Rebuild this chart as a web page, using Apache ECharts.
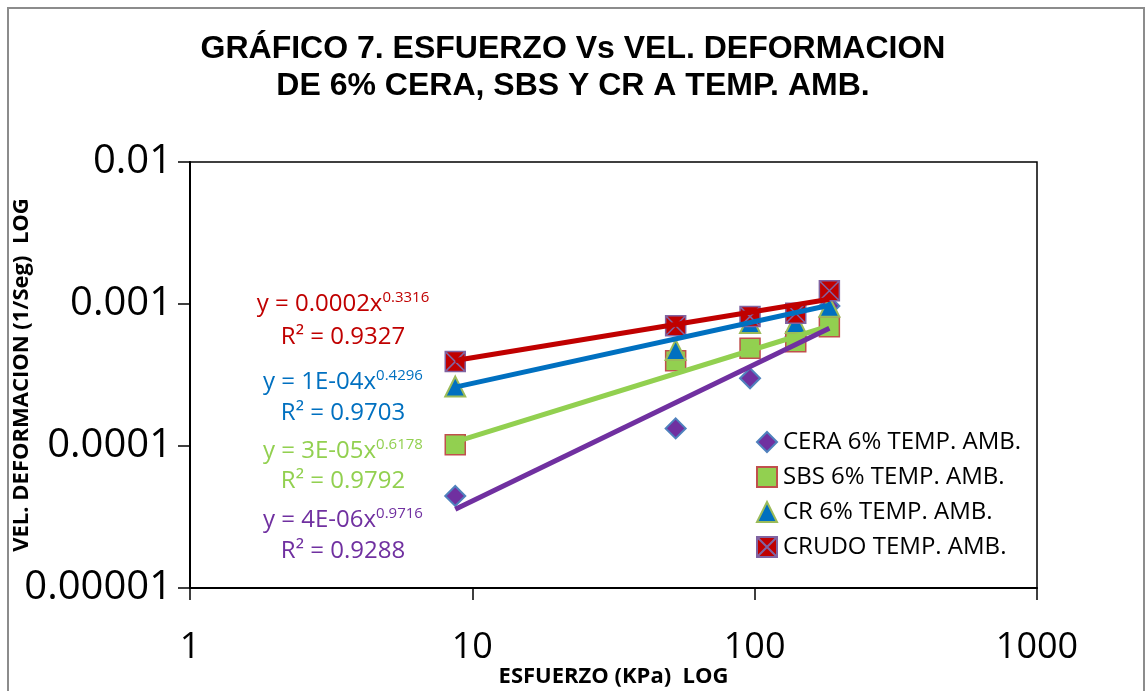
<!DOCTYPE html>
<html><head><meta charset="utf-8">
<script src="https://cdn.jsdelivr.net/npm/echarts@6/dist/echarts.min.js"></script>
<style>html,body{margin:0;padding:0;background:#fff}#c{width:1146px;height:691px}</style>
</head><body><div id="c"></div><script>
// ---- data ----
const stress = [8.7, 52.5, 96.3, 139.8, 183.9];
const ceraRate = [4.45e-5, 1.33e-4, 3.0e-4, 5.9e-4, 9.7e-4];
const sbsRate = [1.02e-4, 3.99e-4, 4.88e-4, 5.43e-4, 6.92e-4];
const crRate = [2.62e-4, 4.74e-4, 7.34e-4, 7.34e-4, 9.57e-4];
const crudoRate = [3.93e-4, 7.03e-4, 8.15e-4, 8.61e-4, 1.24e-3];
const trendX = [8.7, 183.9];
const ceraTrend = [3.58e-5, 6.75e-4];
const sbsTrend = [1.07e-4, 7.0e-4];
const crTrend = [2.6e-4, 9.8e-4];
const crudoTrend = [4.0e-4, 1.08e-3];
const xTickLabels = ['1', '10', '100', '1000'];
const yTickLabels = ['0.00001', '0.0001', '0.001', '0.01'];
const seriesNames = ['CERA 6% TEMP. AMB.', 'SBS 6% TEMP. AMB.', 'CR 6% TEMP. AMB.', 'CRUDO TEMP. AMB.'];
const eqCoef = ['y = 4E-06x', 'y = 3E-05x', 'y = 1E-04x', 'y = 0.0002x'];
const eqExp = ['0.9716', '0.6178', '0.4296', '0.3316'];
const eqR2 = ['R² = 0.9288', 'R² = 0.9792', 'R² = 0.9703', 'R² = 0.9327'];

// ---- styling ----
const colors = ['#7030A0', '#92D050', '#0070C0', '#C00000'];
const eqY = [[520, 551], [451, 481], [382, 413], [304, 337]];
const pair = (xs, ys) => xs.map((x, i) => [x, ys[i]]);
const FONT = '"Open Sans", Lato, sans-serif';

const chart = echarts.init(document.getElementById('c'));
const graphics = [
  { type: 'rect', shape: { x: 8, y: 8, width: 1136, height: 700 }, style: { fill: 'none', stroke: '#8c8c8c', lineWidth: 2 }, silent: true },
  { type: 'text', left: 'center', top: 31, style: { text: 'GRÁFICO 7. ESFUERZO Vs VEL. DEFORMACION\nDE 6% CERA, SBS Y CR A TEMP. AMB.', font: 'bold 32px "Liberation Sans", Arial, sans-serif', fill: '#000', textAlign: 'center', lineHeight: 37 } }
];
for (let i = 0; i < 4; i++) {
  graphics.push({ type: 'text', x: 343, y: eqY[i][0], style: { text: '{a|' + eqCoef[i] + '}{s|' + eqExp[i] + '}', textAlign: 'center', textVerticalAlign: 'middle', rich: { a: { fontFamily: FONT, fontSize: 24, fill: colors[i] }, s: { fontFamily: FONT, fontSize: 15, fill: colors[i], padding: [0, 0, 13, 0] } } } });
  graphics.push({ type: 'text', x: 343, y: eqY[i][1], style: { text: eqR2[i], font: '24px ' + FONT, fill: colors[i], textAlign: 'center', textVerticalAlign: 'middle' } });
}

const crudoSymbol = 'path://M0,0L10,0L10,10L0,10ZM0,0L10,10M10,0L0,10';
chart.setOption({
  animation: false,
  grid: { left: 190, right: 109, top: 162, bottom: 103, outerBoundsMode: 'none', containLabel: false, show: true, borderColor: '#000', borderWidth: 1.5 },
  xAxis: {
    type: 'log', logBase: 10, min: 1, max: 1000,
    name: 'ESFUERZO (KPa)  LOG', nameLocation: 'middle', nameGap: 78, nameMoveOverlap: false,
    nameTextStyle: { fontFamily: FONT, fontWeight: 'bold', fontSize: 22, color: '#000' },
    axisLine: { lineStyle: { color: '#000', width: 2 } },
    axisTick: { show: true, length: 12, lineStyle: { color: '#000', width: 1.5 } },
    minorTick: { show: false }, splitLine: { show: false },
    axisLabel: { margin: 42, fontFamily: FONT, fontSize: 36, color: '#000', formatter: v => xTickLabels[Math.round(Math.log10(v))] }
  },
  yAxis: {
    type: 'log', logBase: 10, min: 0.00001, max: 0.01,
    name: 'VEL. DEFORMACION (1/Seg)  LOG', nameLocation: 'middle', nameGap: 157, nameRotate: 90, nameMoveOverlap: false,
    nameTextStyle: { fontFamily: FONT, fontWeight: 'bold', fontSize: 22, color: '#000' },
    axisLine: { lineStyle: { color: '#000', width: 2 } },
    axisTick: { show: true, length: 12, lineStyle: { color: '#000', width: 1.5 } },
    splitLine: { show: false },
    axisLabel: { margin: 18, fontFamily: FONT, fontSize: 40, color: '#000', formatter: v => yTickLabels[Math.round(Math.log10(v)) + 5] }
  },
  legend: {
    orient: 'vertical', left: 756, top: 430, padding: 0, itemGap: 11, itemWidth: 20, itemHeight: 20,
    textStyle: { fontFamily: FONT, fontSize: 24, color: '#000', padding: [0, 0, 0, 1] },
    data: [
      { name: seriesNames[0], icon: 'diamond' },
      { name: seriesNames[1], icon: 'rect' },
      { name: seriesNames[2], icon: 'triangle' },
      { name: seriesNames[3], icon: crudoSymbol }
    ]
  },
  graphic: graphics,
  series: [
    { name: seriesNames[0], type: 'scatter', data: pair(stress, ceraRate), symbol: 'diamond', symbolSize: 20, itemStyle: { color: '#7030A0', borderColor: '#4F81BD', borderWidth: 2, opacity: 1 }, z: 2 },
    { name: seriesNames[1], type: 'scatter', data: pair(stress, sbsRate), symbol: 'rect', symbolSize: 20, itemStyle: { color: '#92D050', borderColor: '#C0504D', borderWidth: 1.5, opacity: 1 }, z: 3 },
    { name: seriesNames[2], type: 'scatter', data: pair(stress, crRate), symbol: 'triangle', symbolSize: 20, itemStyle: { color: '#0070C0', borderColor: '#9BBB59', borderWidth: 2, opacity: 1 }, z: 4 },
    { name: seriesNames[3], type: 'scatter', data: pair(stress, crudoRate), symbol: crudoSymbol, symbolSize: 20, itemStyle: { color: '#C00000', borderColor: '#8064A2', borderWidth: 1.5, opacity: 1 }, z: 5 },
    { type: 'line', data: pair(trendX, crudoTrend), symbol: 'none', lineStyle: { color: colors[3], width: 5 }, z: 6, silent: true },
    { type: 'line', data: pair(trendX, crTrend), symbol: 'none', lineStyle: { color: colors[2], width: 5 }, z: 7, silent: true },
    { type: 'line', data: pair(trendX, sbsTrend), symbol: 'none', lineStyle: { color: colors[1], width: 5 }, z: 8, silent: true },
    { type: 'line', data: pair(trendX, ceraTrend), symbol: 'none', lineStyle: { color: colors[0], width: 5 }, z: 9, silent: true }
  ]
});
</script></body></html>
